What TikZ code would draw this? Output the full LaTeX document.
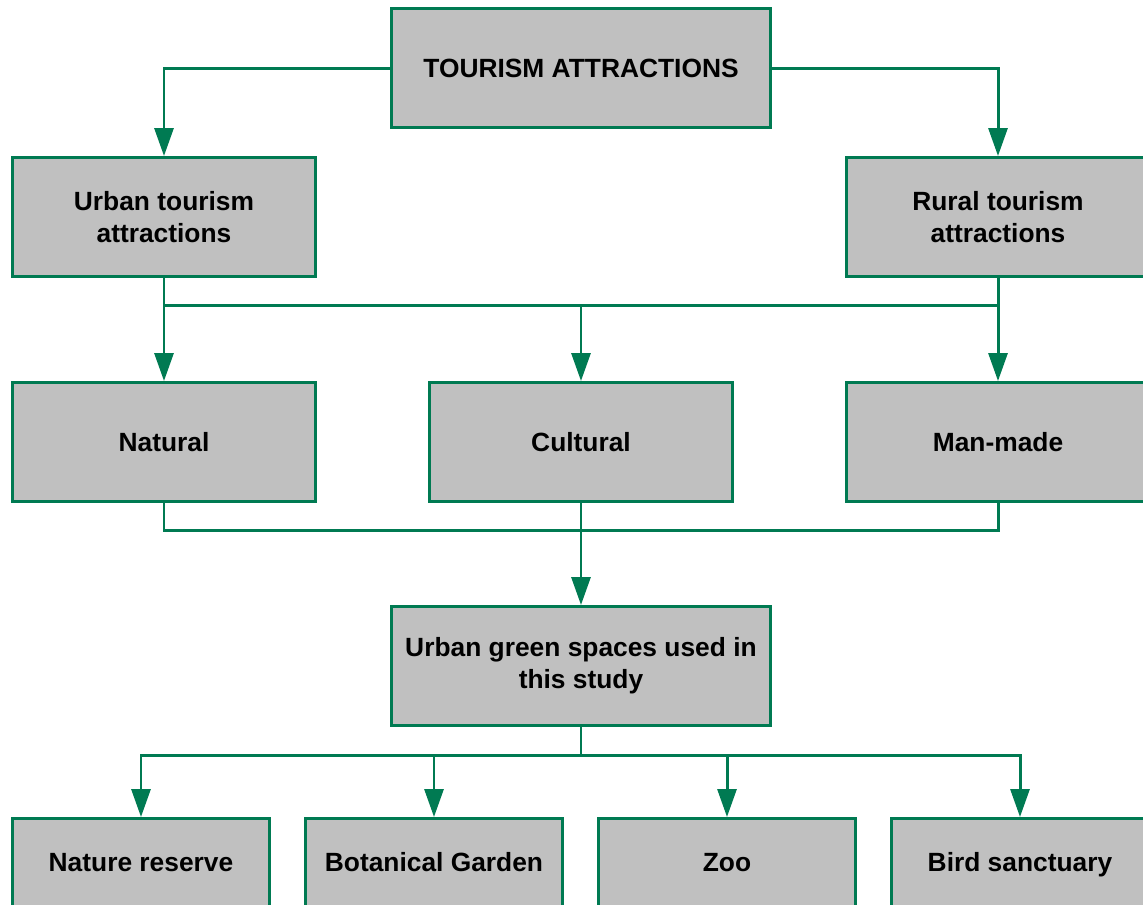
\documentclass[tikz,border=0pt]{standalone}
\usepackage{fontspec}
\setmainfont{Liberation Sans}
\usetikzlibrary{arrows.meta}
\definecolor{tgreen}{RGB}{0,122,82}
\definecolor{tgray}{RGB}{192,192,192}
\tikzset{
  box/.style={draw=tgreen, fill=tgray, line width=1.7pt, align=center, inner sep=0pt,
    font=\fontsize{15}{18.2}\selectfont\bfseries, minimum height=2.38cm},
  widebox/.style={box, minimum width=7.58cm},
  midbox/.style={box, minimum width=6.06cm},
  smallbox/.style={box, minimum width=5.14cm, anchor=north, text depth=0.64cm},
  link/.style={tgreen, line width=1.7pt},
  arr/.style={link, -{Triangle[width=0.38cm, length=0.56cm]}}
}
\begin{document}
\begin{tikzpicture}[x=0.02cm, y=-0.02cm]
\useasboundingbox (0,0) rectangle (1143,904);
\node[widebox] (top) at (581,68) {TOURISM ATTRACTIONS};
\node[midbox] (urban) at (164,217) {Urban tourism\\attractions};
\node[midbox] (rural) at (998,217) {Rural tourism\\attractions};
\node[midbox] (natural) at (164,442) {Natural};
\node[midbox] (cultural) at (581,442) {Cultural};
\node[midbox] (manmade) at (998,442) {Man-made};
\node[widebox] (green) at (581,666) {Urban green spaces used in\\this study};
\node[smallbox] (reserve) at (141,817) {Nature reserve};
\node[smallbox] (garden) at (434,817) {Botanical Garden};
\node[smallbox] (zoo) at (727,817) {Zoo};
\node[smallbox] (bird) at (1020,817) {Bird sanctuary};
% junctions
\coordinate (j1) at (581,305);
\coordinate (j2) at (581,530);
\coordinate (j3) at (581,755);
\draw[arr] (top.west) -| (urban.north);
\draw[arr] (top.east) -| (rural.north);
\draw[link] (urban.south) |- (j1) -| (rural.south);
\draw[arr] (urban.south) -- (natural.north);
\draw[arr] (j1) -- (cultural.north);
\draw[arr] (rural.south) -- (manmade.north);
\draw[link] (natural.south) |- (j2) -| (manmade.south);
\draw[arr] (cultural.south) -- (green.north);
\draw[link] (green.south) -- (j3);
\draw[arr] (j3) -| (reserve.north);
\draw[arr] (j3) -| (garden.north);
\draw[arr] (j3) -| (zoo.north);
\draw[arr] (j3) -| (bird.north);
\end{tikzpicture}
\end{document}
